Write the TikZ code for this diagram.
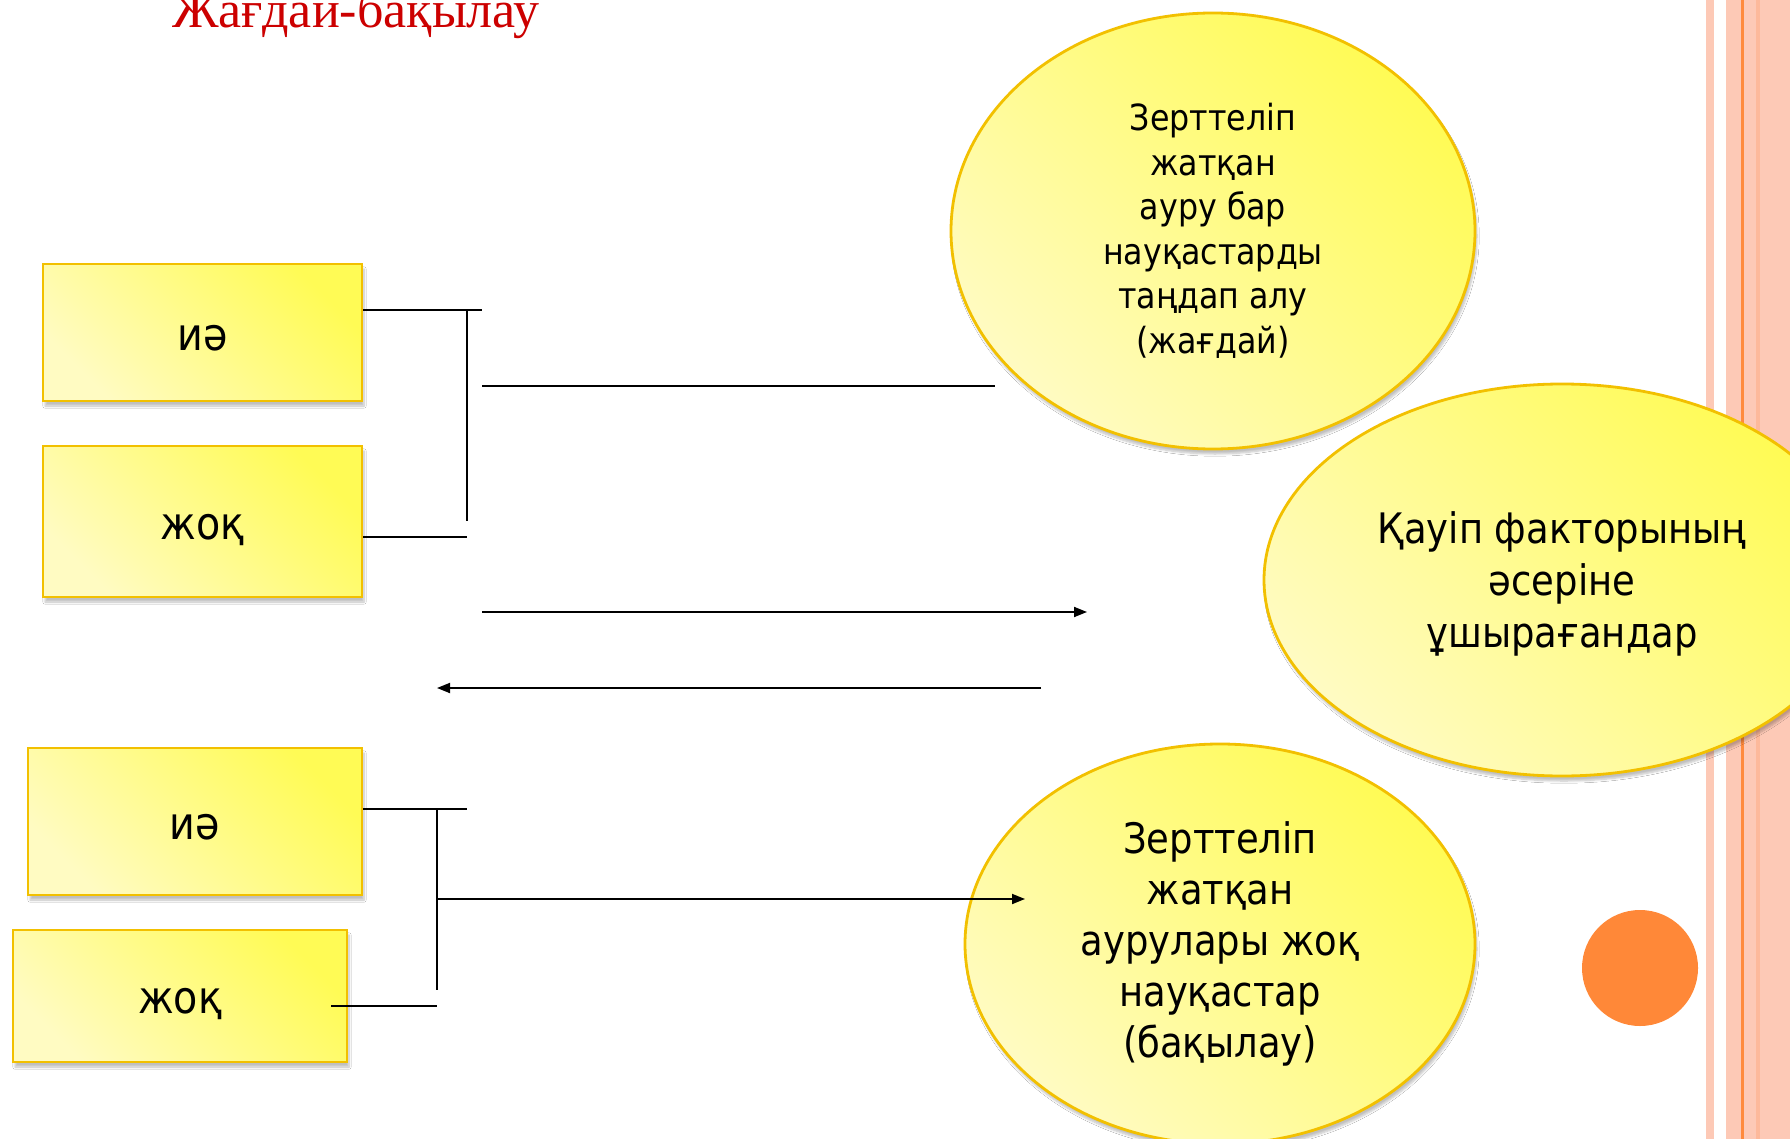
\documentclass[tikz,border=0pt]{standalone}
\usepackage{fontspec}
\setmainfont{DejaVu Sans}[FakeStretch=0.88]
\newfontfamily\titlefont{Liberation Serif}
\usetikzlibrary{shapes.geometric, shadows.blur, arrows.meta}
\definecolor{ylight}{HTML}{FFFBC2}
\definecolor{ybright}{HTML}{FFFB55}
\definecolor{yborder}{HTML}{F2C000}
\definecolor{salmon}{HTML}{FDC9B6}
\definecolor{salmondk}{HTML}{FDB99B}
\definecolor{orangeln}{HTML}{FF8A3D}
\definecolor{orangedot}{HTML}{FF8838}
\definecolor{titlered}{HTML}{CC0000}
\tikzset{
  yfill/.style={left color=ylight, right color=ybright, shading angle=135,
    draw=yborder, line width=2.8pt,
    blur shadow={shadow xshift=2pt, shadow yshift=-5pt, shadow blur steps=6, shadow opacity=25}},
  ybox/.style={yfill, rectangle, inner sep=0pt, font=\fontsize{45}{50}\selectfont},
  yell/.style={yfill, ellipse, inner sep=0pt, align=center},
  conn/.style={line width=1.8pt, black},
  arr/.style={conn, -{Triangle[length=13pt,width=10pt]}}
}
\newcommand{\pushdn}[1]{\rule{0pt}{#1}}
\begin{document}
\begin{tikzpicture}[x=1pt,y=-1pt]
\useasboundingbox (0,0) rectangle (1790,1139);
\clip (0,0) rectangle (1790,1139);
\fill[white] (0,0) rectangle (1790,1139);
% right stripes
\fill[salmon] (1706,0) rectangle (1714,1139);
\fill[salmon] (1726,0) rectangle (1790,1139);
\fill[salmondk] (1756,0) rectangle (1760,1139);
\fill[orangeln] (1741,0) rectangle (1744,1139);
% title
\node[anchor=base, text=titlered, font=\titlefont\fontsize{52}{58}\selectfont, inner sep=0] (title) at (356,28) {Жағдай-бақылау};
% ellipses
\node[yell, minimum width=524pt, minimum height=436pt, font=\fontsize{36}{44.5}\selectfont] (e1) at (1213,231)
  {Зерттеліп\\ жатқан\\ ауру бар\\ науқастарды\\ таңдап алу\\ (жағдай)};
\node[yell, minimum width=596pt, minimum height=392pt, font=\fontsize{42}{52}\selectfont] (e2) at (1562,580)
  {\pushdn{40pt}Қауіп факторының\\ әсеріне\\ ұшырағандар};
\node[yell, minimum width=510pt, minimum height=400pt, font=\fontsize{42}{51}\selectfont] (e3) at (1220,944)
  {Зерттеліп\\ жатқан\\ аурулары жоқ\\ науқастар\\ (бақылау)};
\fill[orangedot] (1640,968) circle (58pt);
% boxes
\node[ybox, minimum width=319pt, minimum height=137pt] (b1) at (202.5,332.5) {\pushdn{37pt}иә};
\node[ybox, minimum width=319pt, minimum height=151pt] (b2) at (202.5,521.5) {\pushdn{42pt}жоқ};
\node[ybox, minimum width=334pt, minimum height=147pt] (b3) at (195,821.5) {\pushdn{37pt}иә};
\node[ybox, minimum width=334pt, minimum height=132pt] (b4) at (180,996) {\pushdn{41pt}жоқ};
% coordinates
\coordinate (j1) at (482,310);
\coordinate (v1t) at (467,310);
\coordinate (v1b) at (467,521);
\coordinate (j2) at (467,537);
\coordinate (h1a) at (482,386);
\coordinate (h1b) at (995,386);
\coordinate (h2a) at (482,612);
\coordinate (h2b) at (1087,612);
\coordinate (h3a) at (1041,688);
\coordinate (h3b) at (437,688);
\coordinate (j3) at (467,809);
\coordinate (v2t) at (437,809);
\coordinate (v2b) at (437,990);
\coordinate (h4b) at (1025,899);
\coordinate (v2m) at (437,899);
\coordinate (j4a) at (331,1006);
\coordinate (j4b) at (437,1006);
% connectors
\draw[conn] (b1.east |- j1) -- (j1);
\draw[conn] (v1t) -- (v1b);
\draw[conn] (b2.east |- j2) -- (j2);
\draw[conn] (h1a) -- (h1b);
\draw[arr] (h2a) -- (h2b);
\draw[arr] (h3a) -- (h3b);
\draw[conn] (b3.east |- j3) -- (j3);
\draw[conn] (v2t) -- (v2b);
\draw[arr] (v2m) -- (h4b);
\draw[conn] (j4a) -- (j4b);
\end{tikzpicture}
\end{document}
